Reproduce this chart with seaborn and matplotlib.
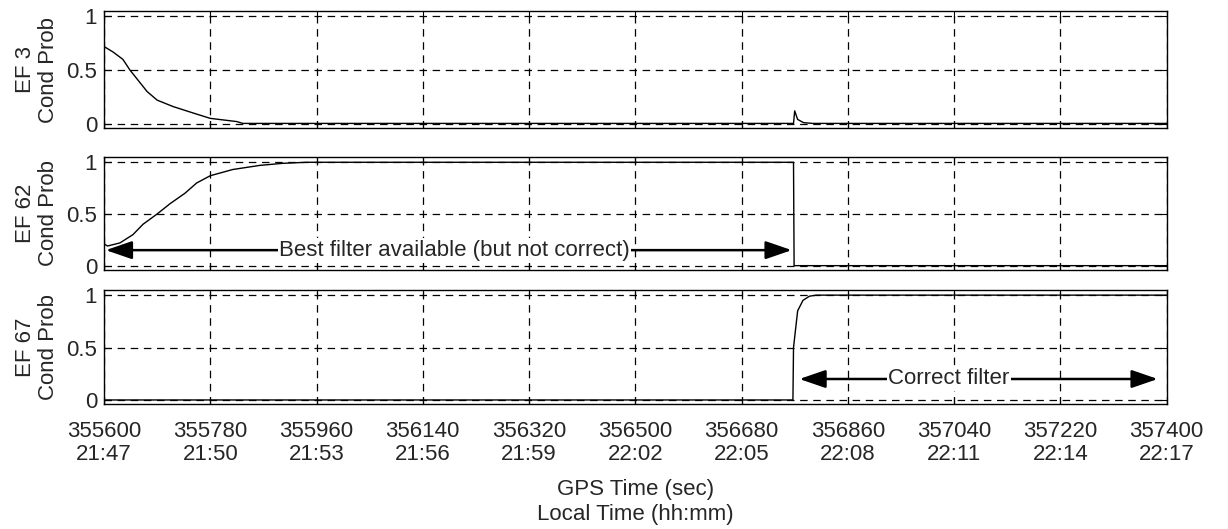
import numpy as np
import pandas as pd
import seaborn as sns
import matplotlib.pyplot as plt

# Dados
ef3_t = [355600, 355615, 355632, 355644, 355673, 355690, 355717, 355751, 355780,
         355825, 355835, 356768, 356770, 356775, 356785, 356800, 357400]
ef3_p = [0.72, 0.67, 0.60, 0.50, 0.30, 0.22, 0.16, 0.10, 0.05,
         0.02, 0.003, 0.003, 0.12, 0.04, 0.01, 0.003, 0.003]

ef62_t = [355600, 355606, 355627, 355649, 355666, 355690, 355712, 355737, 355757,
          355780, 355818, 355864, 355903, 355943, 356768, 356769, 357400]
ef62_p = [0.21, 0.19, 0.22, 0.30, 0.40, 0.50, 0.60, 0.70, 0.80,
          0.87, 0.93, 0.97, 0.99, 1.0, 1.0, 0.0, 0.0]

ef67_t = [355600, 356767, 356768, 356770, 356775, 356784, 356795, 356807, 357400]
ef67_p = [0.0, 0.0, 0.50, 0.60, 0.85, 0.95, 0.99, 1.0, 1.0]

gps_ticks = [355600, 355780, 355960, 356140, 356320, 356500, 356680, 356860, 357040, 357220, 357400]
local_ticks = ['21:47', '21:50', '21:53', '21:56', '21:59', '22:02', '22:05', '22:08', '22:11', '22:14', '22:17']

series = [('EF 3', ef3_t, ef3_p), ('EF 62', ef62_t, ef62_p), ('EF 67', ef67_t, ef67_p)]

sns.set_style('white')
plt.rcParams['font.family'] = ['Liberation Sans', 'DejaVu Sans']
fs = 16

fig = plt.figure(figsize=(12.28, 5.29), dpi=100)
pos = [(0.758, 0.979), (0.490, 0.703), (0.236, 0.452)]
axes = []
for (b, t), (nome, tt, pp) in zip(pos, series):
    ax = fig.add_axes([0.0847, b, 0.950 - 0.0847, t - b])
    df = pd.DataFrame({'t': tt, 'p': pp})
    sns.lineplot(data=df, x='t', y='p', ax=ax, color='black', linewidth=1, sort=False)
    ax.set_xlim(355600, 357400)
    ax.set_ylim(-0.04, 1.05)
    ax.set_yticks([0, 0.5, 1])
    ax.set_yticklabels(['0', '0.5', '1'], fontsize=fs)
    ax.set_xticks(gps_ticks)
    ax.grid(True, color='black', linestyle=(0, (6, 4.5)), linewidth=0.9)
    ax.tick_params(direction='in', length=5, bottom=True, left=True, top=True, right=True,
                   color='black', pad=5)
    for s in ax.spines.values():
        s.set_color('black')
        s.set_linewidth(1)
    ax.set_ylabel(nome + '\nCond Prob', fontsize=fs, labelpad=5, linespacing=1.15)
    ax.set_xlabel('')
    axes.append(ax)

for ax in axes[:2]:
    ax.set_xticklabels([])
axes[2].set_xticklabels([f'{g}\n{l}' for g, l in zip(gps_ticks, local_ticks)], fontsize=fs, linespacing=1.15)
axes[2].tick_params(axis='x', pad=12)
axes[2].set_xlabel('GPS Time (sec)\nLocal Time (hh:mm)', fontsize=fs, linespacing=1.25, labelpad=10)

# Anotacoes com setas
arrow = dict(arrowstyle='-|>,head_length=1.6,head_width=0.55', color='black', lw=1.8, shrinkA=0, shrinkB=0)
ax = axes[1]
ax.annotate('', xy=(355603, 0.15), xytext=(356000, 0.15), arrowprops=arrow)
ax.annotate('', xy=(356765, 0.15), xytext=(356400, 0.15), arrowprops=arrow)
ax.text(356194, 0.15, 'Best filter available (but not correct)', fontsize=fs, ha='center', va='center',
        bbox=dict(facecolor='white', edgecolor='none', pad=1))

ax = axes[2]
ax.annotate('', xy=(356778, 0.2), xytext=(357000, 0.2), arrowprops=arrow)
ax.annotate('', xy=(357385, 0.2), xytext=(357050, 0.2), arrowprops=arrow)
ax.text(357031, 0.2, 'Correct filter', fontsize=fs, ha='center', va='center',
        bbox=dict(facecolor='white', edgecolor='none', pad=1))

fig.savefig('out.png', dpi=100)
